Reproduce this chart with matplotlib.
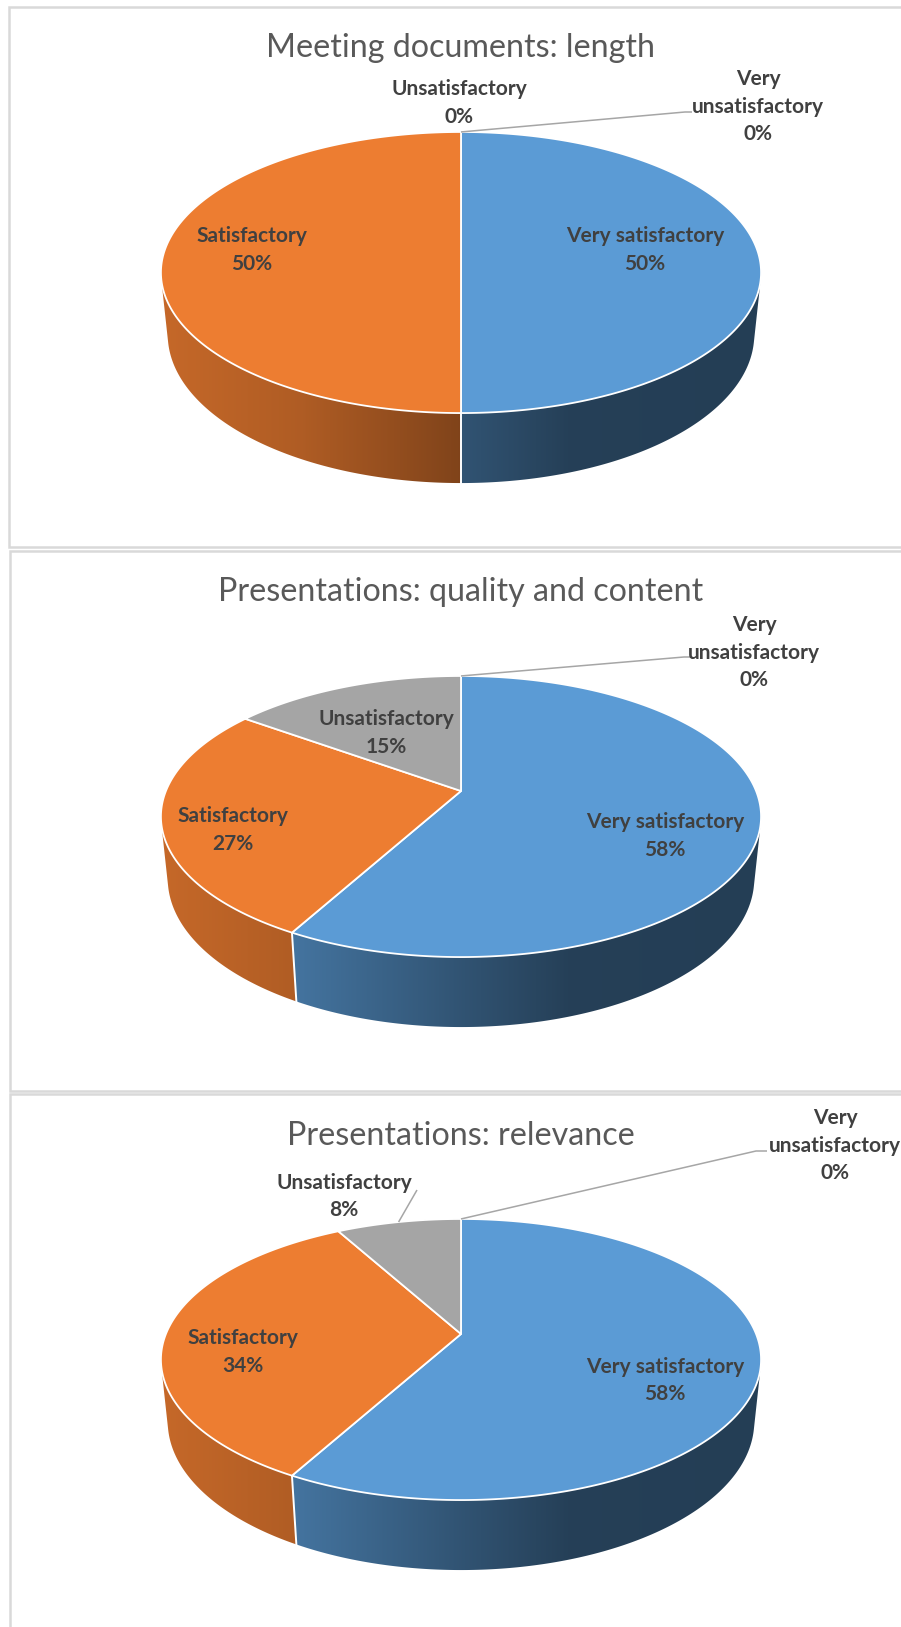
import numpy as np
import matplotlib
matplotlib.use("Agg")
import matplotlib.pyplot as plt
from matplotlib.patches import Polygon, Rectangle
from matplotlib.colors import to_rgb

# ---------------- data ----------------
categories = ["Very satisfactory", "Satisfactory", "Unsatisfactory", "Very unsatisfactory"]
titles = ["Meeting documents: length",
          "Presentations: quality and content",
          "Presentations: relevance"]
length_pct = [50, 50, 0, 0]
quality_pct = [58, 27, 15, 0]
relevance_pct = [58, 34, 8, 0]
colors = ["#5B9BD5", "#ED7D31", "#A5A5A5", "#FFC000"]

# ---------------- layout ----------------
W, H = 901, 1627
fig = plt.figure(figsize=(W / 100, H / 100), dpi=100)
ax = fig.add_axes([0, 0, 1, 1])
ax.set_xlim(0, W)
ax.set_ylim(H, 0)
ax.axis("off")

FONT = ["Lato", "DejaVu Sans"]
LABEL_COLOR = "#404040"
TITLE_COLOR = "#595959"
LEADER = "#A6A6A6"

# perspective camera
F = 1443.0
D = 4.89
S_E = 0.4606
C_E = 0.8876
HGT = 0.239


def proj(x, y, z, cx, cy):
    depth = D + y * C_E - z * S_E
    X = cx + F * x / depth
    Y = cy - F * (y * S_E + z * C_E) / depth
    return X, Y


def rim(theta_deg, z, cx, cy):
    t = np.radians(theta_deg)
    return proj(np.sin(t), np.cos(t), z, cx, cy)


VIS0 = np.degrees(np.arccos(-1.0 / (D * C_E)))
VIS1 = 360 - VIS0

shade_dx = [-310, -160, 0, 110, 310]
shade_f = [0.84, 0.74, 0.54, 0.41, 0.40]

panels = [
    dict(vals=length_pct, cx=461, cy=247, title_y=48,
         box=(9, 7, 1000, 540),
         labels=[(645, 236, False), (252, 236, False), (459, 89, False), (758, 79, True)],
         leaders={3: [(685, 112), (692, 112)]}),
    dict(vals=quality_pct, cx=461, cy=791, title_y=592,
         box=(10, 551, 1000, 540),
         labels=[(665, 822, False), (233, 816, False), (386, 719, False), (754, 625, True)],
         leaders={3: [(684, 657), (690, 657)]}),
    dict(vals=relevance_pct, cx=461, cy=1334, title_y=1136,
         box=(10, 1094, 1000, 600),
         labels=[(665, 1367, False), (243, 1338, False), (344, 1183, False), (835, 1118, True)],
         leaders={3: [(756, 1151), (767, 1151)], 2: [(417, 1190)]}),
]

for p in panels:
    bx, by, bw, bh = p["box"]
    ax.add_patch(Rectangle((bx, by), bw, bh, facecolor="white",
                           edgecolor="#D9D9D9", lw=1.8, zorder=0))

for pi, p in enumerate(panels):
    cx, cy = p["cx"], p["cy"]
    vals = p["vals"]
    tot = float(sum(vals))
    cum = np.concatenate([[0], np.cumsum(vals)]) / tot * 360.0

    # ---- side walls ----
    for i, v in enumerate(vals):
        if v <= 0:
            continue
        a0, a1 = max(cum[i], VIS0), min(cum[i + 1], VIS1)
        if a1 <= a0:
            continue
        th = np.linspace(a0, a1, 200)
        tx, ty = rim(th, 0, cx, cy)
        bx_, by_ = rim(th[::-1], -HGT, cx, cy)
        poly = Polygon(np.column_stack([np.r_[tx, bx_], np.r_[ty, by_]]),
                       closed=True, facecolor="none", edgecolor="none")
        ax.add_patch(poly)
        xs = np.linspace(cx - 310, cx + 310, 400)
        fac = np.interp(xs - cx, shade_dx, shade_f)
        base = np.array(to_rgb(colors[i]))
        img = np.clip(fac[None, :, None] * base[None, None, :], 0, 1)
        img = np.repeat(img, 2, axis=0)
        im = ax.imshow(img, extent=(cx - 310, cx + 310, cy + 260, cy - 200),
                       aspect="auto", interpolation="bilinear", zorder=1)
        im.set_clip_path(poly)
    # vertical white separators on the wall
    for a in cum:
        aa = a % 360
        if VIS0 < aa < VIS1:
            x0, y0 = rim(aa, 0, cx, cy)
            x1, y1 = rim(aa, -HGT, cx, cy)
            ax.plot([x0, x1], [y0, y1], color="white", lw=1.4, zorder=2)

    # ---- top faces ----
    for i, v in enumerate(vals):
        if v <= 0:
            continue
        th = np.linspace(cum[i], cum[i + 1], 300)
        tx, ty = rim(th, 0, cx, cy)
        ox, oy = proj(0, 0, 0, cx, cy)
        pts = np.column_stack([np.r_[ox, tx], np.r_[oy, ty]])
        ax.add_patch(Polygon(pts, closed=True, facecolor=colors[i],
                             edgecolor="white", lw=1.3, joinstyle="round", zorder=3))

    # ---- title ----
    ax.text(461, p["title_y"], titles[pi], ha="center", va="center",
            fontsize=23.2, color=TITLE_COLOR, family=FONT, fontweight="normal", zorder=5)

    # ---- labels ----
    for i, (lx, ly, wrap) in enumerate(p["labels"]):
        name = categories[i]
        lines = name.split(" ") if wrap else [name]
        lines = lines + [f"{vals[i]}%"]
        for k, ln in enumerate(lines):
            ax.text(lx, ly + k * 27.5, ln, ha="center", va="center",
                    fontsize=15, fontweight="bold", color=LABEL_COLOR,
                    family=FONT, zorder=6)

    # ---- leader lines ----
    for i, pts in p["leaders"].items():
        mid = (cum[i] + cum[i + 1]) / 2.0
        sx, sy = rim(mid, 0, cx, cy)
        xs = [sx] + [q[0] for q in pts]
        ys = [sy] + [q[1] for q in pts]
        ax.plot(xs, ys, color=LEADER, lw=1.1, zorder=4, solid_capstyle="butt")

ax.set_xlim(0, W)
ax.set_ylim(H, 0)
fig.savefig("out.png", dpi=100)
